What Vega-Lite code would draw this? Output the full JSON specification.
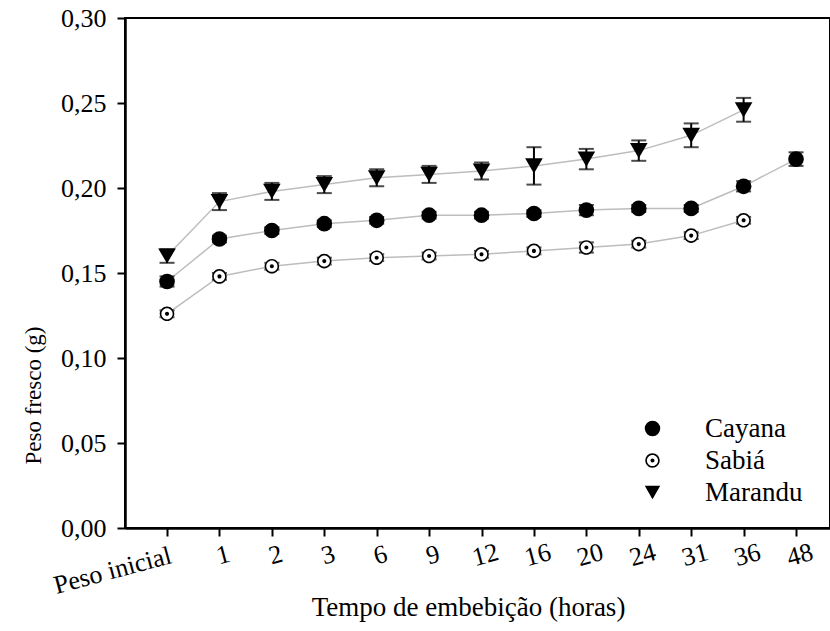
{
  "$schema": "https://vega.github.io/schema/vega-lite/v6.json",
  "width": 705,
  "height": 510,
  "autosize": "none",
  "padding": {"left": 125, "top": 18, "right": 0, "bottom": 103},
  "background": "white",
  "config": {
    "font": "Liberation Serif",
    "view": {"stroke": "black", "strokeWidth": 2},
    "axis": {
      "domainColor": "black", "domainWidth": 2.5,
      "tickColor": "black", "tickWidth": 2, "tickSize": 8,
      "labelColor": "black", "titleColor": "black", "grid": false,
      "labelFont": "Liberation Serif", "titleFont": "Liberation Serif",
      "titleFontWeight": "normal"
    }
  },
  "data": {
    "values": [
      {"tempo": "Peso inicial", "i": 0, "cultivar": "Cayana", "peso": 0.145, "ep": 0.003},
      {"tempo": "1", "i": 1, "cultivar": "Cayana", "peso": 0.170, "ep": 0.002},
      {"tempo": "2", "i": 2, "cultivar": "Cayana", "peso": 0.175, "ep": 0.002},
      {"tempo": "3", "i": 3, "cultivar": "Cayana", "peso": 0.179, "ep": 0.002},
      {"tempo": "6", "i": 4, "cultivar": "Cayana", "peso": 0.181, "ep": 0.002},
      {"tempo": "9", "i": 5, "cultivar": "Cayana", "peso": 0.184, "ep": 0.002},
      {"tempo": "12", "i": 6, "cultivar": "Cayana", "peso": 0.184, "ep": 0.002},
      {"tempo": "16", "i": 7, "cultivar": "Cayana", "peso": 0.185, "ep": 0.002},
      {"tempo": "20", "i": 8, "cultivar": "Cayana", "peso": 0.187, "ep": 0.003},
      {"tempo": "24", "i": 9, "cultivar": "Cayana", "peso": 0.188, "ep": 0.002},
      {"tempo": "31", "i": 10, "cultivar": "Cayana", "peso": 0.188, "ep": 0.002},
      {"tempo": "36", "i": 11, "cultivar": "Cayana", "peso": 0.201, "ep": 0.003},
      {"tempo": "48", "i": 12, "cultivar": "Cayana", "peso": 0.217, "ep": 0.004},
      {"tempo": "Peso inicial", "i": 0, "cultivar": "Sabiá", "peso": 0.126, "ep": 0.002},
      {"tempo": "1", "i": 1, "cultivar": "Sabiá", "peso": 0.148, "ep": 0.002},
      {"tempo": "2", "i": 2, "cultivar": "Sabiá", "peso": 0.154, "ep": 0.002},
      {"tempo": "3", "i": 3, "cultivar": "Sabiá", "peso": 0.157, "ep": 0.002},
      {"tempo": "6", "i": 4, "cultivar": "Sabiá", "peso": 0.159, "ep": 0.002},
      {"tempo": "9", "i": 5, "cultivar": "Sabiá", "peso": 0.160, "ep": 0.002},
      {"tempo": "12", "i": 6, "cultivar": "Sabiá", "peso": 0.161, "ep": 0.002},
      {"tempo": "16", "i": 7, "cultivar": "Sabiá", "peso": 0.163, "ep": 0.002},
      {"tempo": "20", "i": 8, "cultivar": "Sabiá", "peso": 0.165, "ep": 0.003},
      {"tempo": "24", "i": 9, "cultivar": "Sabiá", "peso": 0.167, "ep": 0.002},
      {"tempo": "31", "i": 10, "cultivar": "Sabiá", "peso": 0.172, "ep": 0.002},
      {"tempo": "36", "i": 11, "cultivar": "Sabiá", "peso": 0.181, "ep": 0.002},
      {"tempo": "Peso inicial", "i": 0, "cultivar": "Marandu", "peso": 0.160, "ep": 0.004},
      {"tempo": "1", "i": 1, "cultivar": "Marandu", "peso": 0.192, "ep": 0.005},
      {"tempo": "2", "i": 2, "cultivar": "Marandu", "peso": 0.198, "ep": 0.005},
      {"tempo": "3", "i": 3, "cultivar": "Marandu", "peso": 0.202, "ep": 0.005},
      {"tempo": "6", "i": 4, "cultivar": "Marandu", "peso": 0.206, "ep": 0.005},
      {"tempo": "9", "i": 5, "cultivar": "Marandu", "peso": 0.208, "ep": 0.005},
      {"tempo": "12", "i": 6, "cultivar": "Marandu", "peso": 0.210, "ep": 0.005},
      {"tempo": "16", "i": 7, "cultivar": "Marandu", "peso": 0.213, "ep": 0.011},
      {"tempo": "20", "i": 8, "cultivar": "Marandu", "peso": 0.217, "ep": 0.006},
      {"tempo": "24", "i": 9, "cultivar": "Marandu", "peso": 0.222, "ep": 0.006},
      {"tempo": "31", "i": 10, "cultivar": "Marandu", "peso": 0.231, "ep": 0.007},
      {"tempo": "36", "i": 11, "cultivar": "Marandu", "peso": 0.246, "ep": 0.007}
    ]
  },
  "encoding": {
    "x": {
      "field": "tempo",
      "type": "ordinal",
      "scale": {
        "type": "point",
        "domain": ["Peso inicial", "1", "2", "3", "6", "9", "12", "16", "20", "24", "31", "36", "48"],
        "padding": 0.725,
        "align": 0.553
      },
      "axis": {
        "title": "Tempo de embebição (horas)",
        "titleFontSize": 27,
        "titleX": 343,
        "titleY": 79,
        "titleAlign": "center",
        "titleBaseline": "middle",
        "labelAngle": -15,
        "labelFontSize": 26,
        "labelPadding": 6,
        "labelBaseline": "top",
        "labelAlign": {"condition": {"test": "datum.value == 'Peso inicial'", "value": "right"}, "value": "center"}
      }
    },
    "y": {
      "field": "peso",
      "type": "quantitative",
      "scale": {"domain": [0, 0.3], "nice": false, "zero": true},
      "axis": {
        "values": [0, 0.05, 0.1, 0.15, 0.2, 0.25, 0.3],
        "labelExpr": "replace(format(datum.value, '.2f'), '.', ',')",
        "labelFontSize": 26,
        "labelPadding": 11,
        "title": "Peso fresco (g)",
        "titleFontSize": 23,
        "titleX": -92,
        "titleY": 377,
        "titleAngle": -90,
        "titleAlign": "center",
        "titleBaseline": "middle"
      }
    }
  },
  "layer": [
    {
      "mark": {"type": "line", "color": "#bdbdbd", "strokeWidth": 1.5},
      "encoding": {
        "detail": {"field": "cultivar"},
        "order": {"field": "i", "type": "quantitative"}
      }
    },
    {
      "mark": {"type": "errorbar", "color": "black", "thickness": 2, "ticks": {"size": 15, "thickness": 2, "color": "black"}},
      "encoding": {
        "yError": {"field": "ep"},
        "detail": {"field": "cultivar"}
      }
    },
    {
      "transform": [{"filter": "datum.cultivar == 'Sabiá'"}],
      "mark": {"type": "point", "shape": "circle", "filled": true, "color": "white", "opacity": 1, "size": 210},
      "encoding": {}
    },
    {
      "transform": [{"filter": "datum.cultivar != 'Marandu'"}],
      "mark": {"type": "point", "filled": true, "color": "black", "opacity": 1, "size": 245},
      "encoding": {
        "shape": {
          "field": "cultivar",
          "type": "nominal",
          "scale": {
            "domain": ["Cayana", "Sabiá", "Marandu"],
            "range": [
              "circle",
              "M 0.93 0 A 0.93 0.93 0 1 1 -0.93 0 A 0.93 0.93 0 1 1 0.93 0 Z M 0.72 0 A 0.72 0.72 0 1 0 -0.72 0 A 0.72 0.72 0 1 0 0.72 0 Z M 0.26 0 A 0.26 0.26 0 1 1 -0.26 0 A 0.26 0.26 0 1 1 0.26 0 Z",
              "triangle-down"
            ]
          },
          "legend": {
            "title": null,
            "orient": "none",
            "legendX": 514,
            "legendY": 397,
            "padding": 0,
            "labelFontSize": 27,
            "labelFont": "Liberation Serif",
            "labelColor": "black",
            "labelOffset": 39,
            "symbolSize": 240,
            "symbolFillColor": "black",
            "symbolStrokeWidth": 0,
            "rowPadding": 4
          }
        }
      }
    },
    {
      "transform": [{"filter": "datum.cultivar == 'Marandu'"}],
      "mark": {"type": "point", "filled": true, "color": "black", "opacity": 1, "size": 310},
      "encoding": {
        "shape": {"field": "cultivar", "type": "nominal"}
      }
    }
  ]
}
